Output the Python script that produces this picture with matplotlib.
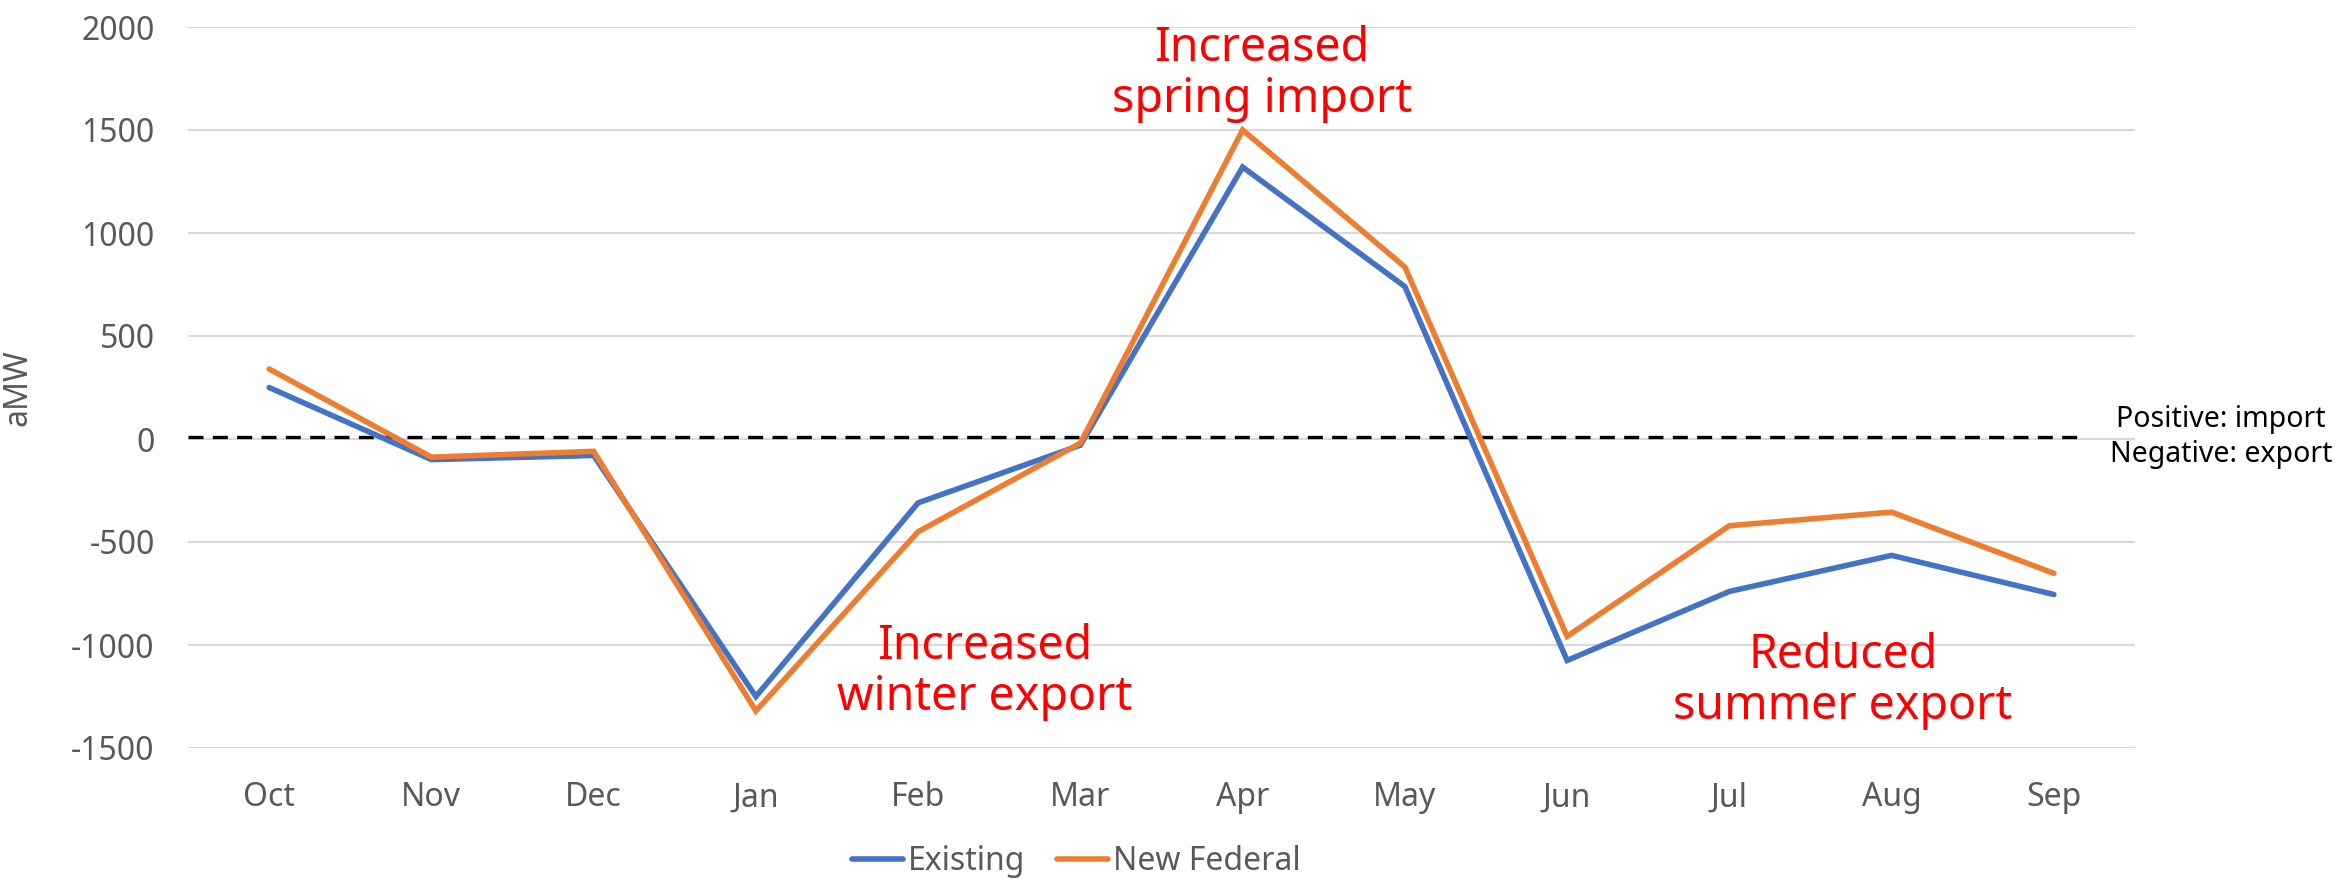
import matplotlib as mpl
import matplotlib.pyplot as plt
import numpy as np

# Data (aMW)
months = ['Oct', 'Nov', 'Dec', 'Jan', 'Feb', 'Mar', 'Apr', 'May', 'Jun', 'Jul', 'Aug', 'Sep']
existing = [250, -100, -80, -1250, -310, -30, 1320, 740, -1075, -740, -565, -755]
new_federal = [340, -88, -60, -1320, -450, -20, 1500, 835, -958, -421, -355, -652]
y_ticks = [-1500, -1000, -500, 0, 500, 1000, 1500, 2000]

# Font / style parameters
mpl.rcParams['font.family'] = ['Noto Sans', 'DejaVu Sans']
mpl.rcParams['font.size'] = 23
mpl.rcParams['axes.linewidth'] = 0
mpl.rcParams['axes.unicode_minus'] = False

grey = '#595959'
W, H = 2346, 882

fig = plt.figure(figsize=(W / 100, H / 100), dpi=100)
ax = fig.add_axes([188 / W, 1 - 748 / H, (2135 - 188) / W, (748 - 27) / H])

x = np.arange(len(months))

# Gridlines
ax.set_ylim(-1500, 2000)
ax.set_yticks(y_ticks)
ax.yaxis.grid(True, color='#D9D9D9', lw=1.5)
ax.set_axisbelow(True)
for s in ax.spines.values():
    s.set_visible(False)

# Zero reference line (dashed)
ax.plot([-0.5, 11.2], [10, 10], color='black', lw=2.4, dashes=(4.5, 2.8), zorder=2)

# Series
ax.plot(x, existing, color='#4472C4', lw=4.0, solid_capstyle='round', solid_joinstyle='miter', label='Existing', zorder=3)
ax.plot(x, new_federal, color='#ED7D31', lw=4.0, solid_capstyle='round', solid_joinstyle='miter', label='New Federal', zorder=4)

ax.set_xlim(-0.5, 11.5)
ax.set_xticks(x)
ax.set_xticklabels(months)
ax.tick_params(axis='both', length=0, colors=grey, labelsize=23)
ax.tick_params(axis='x', pad=24)
ax.tick_params(axis='y', pad=24)

ax.set_ylabel('aMW', color=grey, fontsize=23)
ax.yaxis.set_label_coords(-0.079, 0.5)

# Annotations
red_kw = dict(color='red', fontsize=33.5, ha='center', va='center', linespacing=1.12)
fig.text(1262 / W, 1 - 74 / H, 'Increased\nspring import', **red_kw)
fig.text(985 / W, 1 - 672 / H, 'Increased\nwinter export', **red_kw)
fig.text(1843 / W, 1 - 681 / H, 'Reduced\nsummer export', **red_kw)

fig.text(2221 / W, 1 - 437 / H, 'Positive: import\nNegative: export', color='black',
         fontsize=20.5, ha='center', va='center', linespacing=1.25)

# Legend
fig.legend(loc='center', bbox_to_anchor=(1076 / W, 1 - 862 / H), ncol=2, frameon=False,
           handlelength=1.6, handletextpad=0.15, columnspacing=1.0, labelcolor=grey,
           fontsize=23, borderaxespad=0, borderpad=0)

fig.savefig('out.png', dpi=100)
print("done")
